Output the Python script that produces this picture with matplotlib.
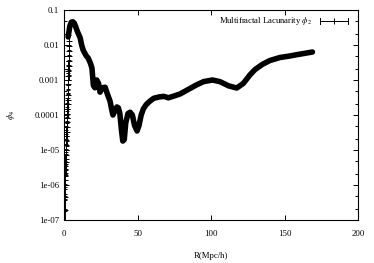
import matplotlib
matplotlib.use("Agg")
import matplotlib.pyplot as plt
import numpy as np
from matplotlib.ticker import FixedLocator, FixedFormatter, NullFormatter

plt.rcParams['font.family'] = ['Liberation Serif', 'DejaVu Serif']
plt.rcParams['mathtext.fontset'] = 'stix'

# small-R points (stack near the left axis)
r_small = [0.4, 0.5, 0.6, 0.7, 0.8, 0.9, 1.0, 1.1, 1.2, 1.3, 1.4, 1.5, 1.6, 1.7, 1.8,
           1.9, 2.0, 2.1, 2.2, 2.3, 2.4, 2.5, 2.6, 2.7, 2.8, 2.9, 3.0, 3.1, 3.2, 3.3,
           3.4, 3.5, 3.6]
phi_small = [1.9e-7, 4.5e-7, 1.0e-6, 1.4e-6, 1.9e-6, 2.7e-6, 3.5e-6, 4.5e-6, 5.5e-6,
             7.2e-6, 1.0e-5, 1.4e-5, 1.9e-5, 2.5e-5, 3.3e-5, 4.5e-5, 6.3e-5, 8.2e-5,
             1.1e-4, 1.5e-4, 2.1e-4, 2.7e-4, 3.7e-4, 7.7e-4, 1.0e-3, 1.3e-3, 1.8e-3,
             2.5e-3, 3.5e-3, 4.9e-3, 6.7e-3, 9.4e-3, 1.3e-2]

# main curve
r_main = [2.8, 4, 5, 6, 7, 8, 9, 10, 11, 12, 13, 14, 15, 16.5, 18, 19, 20, 21, 22.3,
          23.5, 24.5, 26, 28, 29.5, 31.3, 32.5, 33.3, 34.5, 36, 37, 38, 39, 40, 41,
          42, 43.5, 45, 46.5, 48, 49.7, 51, 52.5, 54, 56, 58.5, 61, 65, 68, 71, 75,
          79, 85, 90, 95, 101, 106, 112, 117.5, 122, 126.5, 130, 135, 140, 147, 153,
          158.5, 164, 169]
phi_main = [0.017, 0.035, 0.045, 0.046, 0.042, 0.033, 0.025, 0.02, 0.016, 0.01,
            0.0072, 0.006, 0.005, 0.0042, 0.003, 0.0022, 0.0007, 0.0006, 0.001,
            0.0008, 0.00045, 0.0006, 0.00062, 0.0004, 0.00025, 0.00014, 0.0001,
            0.00013, 0.00017, 0.00016, 0.00011, 0.00004, 0.000018, 0.00002, 0.00006,
            0.00011, 0.00012, 0.0001, 0.00005, 0.000035, 0.00005, 0.0001, 0.00015,
            0.0002, 0.00025, 0.0003, 0.00033, 0.00034, 0.00031, 0.00035, 0.0004,
            0.00055, 0.00072, 0.0009, 0.001, 0.0009, 0.00068, 0.00059, 0.0008,
            0.0014, 0.002, 0.0028, 0.0036, 0.0044, 0.0048, 0.0053, 0.0058, 0.0063]

xticks = [0, 50, 100, 150, 200]
yticks = [1e-7, 1e-6, 1e-5, 1e-4, 1e-3, 1e-2, 1e-1]
ytick_labels = ['1e-07', '1e-06', '1e-05', '0.0001', '0.001', '0.01', '0.1']
legend_label = r'Multifractal Lacunarity $\phi_2$'

fig = plt.figure(figsize=(3.74, 2.63), dpi=100)
ax = fig.add_axes([64/374, 43/263, 294/374, 210/263])

ps = np.array(phi_small)
ax.errorbar(r_small, phi_small, yerr=[0.6*ps, 1.0*ps], fmt='+', color='black',
            ms=4, mew=0.7, elinewidth=0.7, capsize=1.5, capthick=0.7)
ax.plot(r_main, phi_main, color='black', lw=4.0, solid_joinstyle='round',
        solid_capstyle='round')

ax.set_yscale('log')
ax.set_xlim(0, 200)
ax.set_ylim(1e-7, 0.1)
ax.xaxis.set_major_locator(FixedLocator(xticks))
ax.set_xticklabels([str(t) for t in xticks])
ax.yaxis.set_major_locator(FixedLocator(yticks))
ax.yaxis.set_major_formatter(FixedFormatter(ytick_labels))
minors = [m * 10.0**e for e in range(-7, -1) for m in (2, 5)]
ax.yaxis.set_minor_locator(FixedLocator(minors))
ax.yaxis.set_minor_formatter(NullFormatter())
ax.tick_params(which='both', direction='in', top=True, right=True, labelsize=6.3,
               width=0.7, colors='black')
ax.tick_params(which='major', length=3.5)
ax.tick_params(which='minor', length=2)
ax.tick_params(axis='x', pad=7.5)
ax.tick_params(axis='y', pad=3.5)
for s in ax.spines.values():
    s.set_linewidth(0.8)

ax.set_xlabel('R(Mpc/h)', fontsize=6.3, labelpad=9.5)
ax.set_ylabel(r'$\phi_4$', fontsize=6.3, labelpad=12.5)

# gnuplot-style key
ax.text(0.844, 0.948, legend_label, transform=ax.transAxes, ha='right', va='center',
        fontsize=6.2)
ax.plot([0.871, 0.966], [0.948, 0.948], transform=ax.transAxes, color='black', lw=0.7)
for xx in (0.871, 0.966):
    ax.plot([xx, xx], [0.935, 0.961], transform=ax.transAxes, color='black', lw=0.7)
ax.plot([0.9185], [0.948], marker='+', ms=4, mew=0.7, color='black',
        transform=ax.transAxes)

fig.savefig('out.png', dpi=100)
